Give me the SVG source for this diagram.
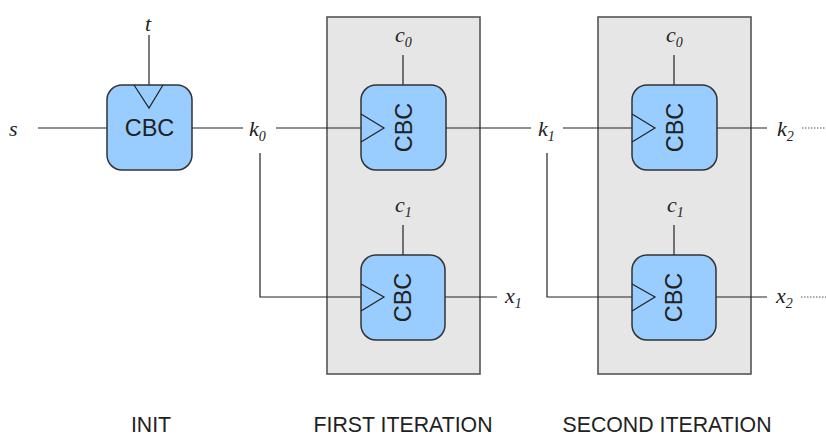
<svg xmlns="http://www.w3.org/2000/svg" width="826" height="436" viewBox="0 0 826 436">
<style>
.bg{fill:#e6e6e6;stroke:#555;stroke-width:1.6}
.box{fill:#99ccff;stroke:#333;stroke-width:1.5}
.tri{fill:none;stroke:#222;stroke-width:1.2}
.w{fill:none;stroke:#222;stroke-width:1.2}
.dot{fill:none;stroke:#555;stroke-width:1;stroke-dasharray:1.5 1.5}
.cbc{font-family:"Liberation Sans",Arial,sans-serif;font-size:23.5px;fill:#222;text-anchor:middle}
.lab{font-family:"Liberation Serif","Times New Roman",serif;font-style:italic;font-size:22px;fill:#222}
.sub{font-size:14px}
.cap{font-family:"Liberation Sans",Arial,sans-serif;font-size:21.3px;fill:#222;text-anchor:middle}
</style>
<rect id="iter1" class="bg" x="327" y="17" width="153" height="357"/>
<rect id="iter2" class="bg" x="598" y="17" width="153" height="357"/>
<g id="connectors">
<path class="w" d="M38 128H107"/>
<path class="w" d="M149 35V85"/>
<path class="w" d="M192 128H243"/>
<path class="w" d="M276 128H361"/>
<path class="w" d="M260 153V297H361"/>
<path class="w" d="M403 55V85"/>
<path class="w" d="M403 225V255"/>
<path class="w" d="M446 128H531"/>
<path class="w" d="M445 297H497"/>
<path class="w" d="M563 128H632"/>
<path class="w" d="M547 153V297H632"/>
<path class="w" d="M674 55V85"/>
<path class="w" d="M674 225V255"/>
<path class="w" d="M717 128H767"/>
<path class="w" d="M716 297H767"/>
<path class="dot" d="M802 128H826"/>
<path class="dot" d="M801 297H826"/>
</g>
<g id="init">
<rect class="box" x="107" y="85" width="85" height="85" rx="15"/>
<path class="tri" d="M134 85L149 108L163 85"/>
<text class="cbc" x="149.5" y="136">CBC</text>
</g>
<g id="cbc1a">
<rect class="box" x="361" y="85" width="85" height="85" rx="15"/>
<path class="tri" d="M361 114L384 128L361 142"/>
<text class="cbc" transform="translate(403.5 127.5) rotate(-90)" y="8">CBC</text>
</g>
<g id="cbc1b">
<rect class="box" x="361" y="255" width="84" height="85" rx="15"/>
<path class="tri" d="M361 284L384 297L361 311"/>
<text class="cbc" transform="translate(403 297.5) rotate(-90)" y="8">CBC</text>
</g>
<g id="cbc2a">
<rect class="box" x="632" y="85" width="85" height="85" rx="15"/>
<path class="tri" d="M632 114L655 128L632 142"/>
<text class="cbc" transform="translate(674.5 127.5) rotate(-90)" y="8">CBC</text>
</g>
<g id="cbc2b">
<rect class="box" x="632" y="255" width="84" height="85" rx="15"/>
<path class="tri" d="M632 284L655 297L632 311"/>
<text class="cbc" transform="translate(674 297.5) rotate(-90)" y="8">CBC</text>
</g>
<g id="labels">
<text class="lab" x="9" y="136">s</text>
<text class="lab" x="145" y="31">t</text>
<text class="lab" x="249" y="136">k<tspan class="sub" dy="5">0</tspan></text>
<text class="lab" x="538" y="136">k<tspan class="sub" dy="5">1</tspan></text>
<text class="lab" x="777" y="136">k<tspan class="sub" dy="5">2</tspan></text>
<text class="lab" x="505" y="303">x<tspan class="sub" dy="5">1</tspan></text>
<text class="lab" x="776" y="303">x<tspan class="sub" dy="5">2</tspan></text>
<text class="lab" x="395" y="42">c<tspan class="sub" dy="5">0</tspan></text>
<text class="lab" x="395" y="212">c<tspan class="sub" dy="5">1</tspan></text>
<text class="lab" x="666" y="42">c<tspan class="sub" dy="5">0</tspan></text>
<text class="lab" x="667" y="212">c<tspan class="sub" dy="5">1</tspan></text>
</g>
<g id="captions">
<text class="cap" x="151" y="432">INIT</text>
<text class="cap" x="403" y="432">FIRST ITERATION</text>
<text class="cap" x="667" y="432">SECOND ITERATION</text>
</g>
</svg>
